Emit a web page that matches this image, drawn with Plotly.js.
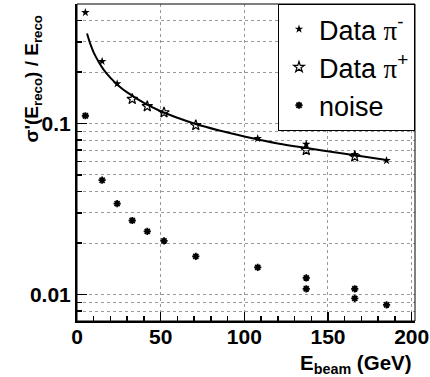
<!DOCTYPE html>
<html>
<head>
<meta charset="utf-8">
<script src="https://cdn.plot.ly/plotly-3.0.1.min.js"></script>
<style>html,body{margin:0;padding:0;background:#fff;} #chart{width:430px;height:377px;}</style>
</head>
<body>
<div id="chart"></div>
<script>
// Data
const energiesMinus = [5, 15, 24, 108, 137, 166, 185];
const resMinus      = [0.446, 0.231, 0.171, 0.0817, 0.0757, 0.066, 0.0608];
const energiesPlus  = [33, 42, 52, 71, 137, 166];
const resPlus       = [0.139, 0.126, 0.116, 0.0977, 0.0698, 0.064];
const noiseE        = [5, 15, 24, 33, 42, 52, 71, 108, 137, 137, 166, 166, 185];
const noiseVal      = [0.111, 0.0466, 0.034, 0.0271, 0.0234, 0.0206, 0.0167, 0.0144, 0.0125, 0.0108, 0.0108, 0.0095, 0.0087];
const fitE          = [6, 8, 10, 13, 16, 20, 25, 30, 40, 50, 60, 70, 85, 100, 120, 140, 160, 185];
const fitVal        = [0.336, 0.291, 0.260, 0.229, 0.206, 0.185, 0.166, 0.152, 0.132, 0.118, 0.108, 0.100, 0.091, 0.084, 0.0765, 0.0712, 0.0665, 0.0612];
const xTickVals     = [0, 50, 100, 150, 200];
const xTickText     = ['0', '50', '100', '150', '200'];
const yTickVals     = [0.01, 0.1];
const yTickText     = ['0.01', '0.1'];
const yMinorVals    = [0.008, 0.009, 0.02, 0.03, 0.04, 0.05, 0.06, 0.07, 0.08, 0.09, 0.2, 0.3, 0.4];

const FONT = 'Liberation Sans, Arial, Helvetica, sans-serif';
const GRID = '#9a9a9a';
const bold = a => a.map(s => '<b>' + s + '</b>');
const PI = '<span style="font-family:\'Liberation Serif\',\'Times New Roman\',serif">π</span>';

const traces = [
  {x: fitE, y: fitVal, mode: 'lines', line: {color: '#000', width: 2, shape: 'spline'},
   showlegend: false, hoverinfo: 'skip'},
  {x: energiesMinus, y: resMinus, mode: 'markers', name: 'Data ' + PI + '<sup>-</sup>',
   legendgroup: 'a', marker: {symbol: 'star', size: 6.5, color: '#000', line: {width: 0}}},
  {x: energiesPlus, y: resPlus, mode: 'markers', name: 'Data ' + PI + '<sup>+</sup>',
   legendgroup: 'b', marker: {symbol: 'star-open', size: 8, color: '#000', line: {width: 1.2, color: '#000'}}},
  {x: noiseE, y: noiseVal, mode: 'markers', name: 'noise',
   legendgroup: 'c', marker: {symbol: 'asterisk-open', size: 6, color: '#000', line: {width: 1.8, color: '#000'}}}
];

const layout = {
  width: 430, height: 377,
  margin: {l: 77, r: 15, t: 4, b: 56},
  paper_bgcolor: '#fff', plot_bgcolor: '#fff',
  font: {family: FONT, color: '#000'},
  showlegend: true,
  legend: {
    x: 1, y: 1, xanchor: 'right', yanchor: 'top',
    bgcolor: '#fff', bordercolor: '#000', borderwidth: 1,
    font: {family: FONT, size: 27, color: '#000'},
    traceorder: 'grouped', tracegroupgap: 0,
    itemsizing: 'trace', itemwidth: 30
  },
  xaxis: {
    range: [0, 202], type: 'linear',
    tickmode: 'array', tickvals: xTickVals, ticktext: bold(xTickText),
    ticks: 'inside', ticklen: 9, tickwidth: 1.5, tickcolor: '#000',
    tickfont: {family: FONT, size: 21, weight: 'bold', color: '#000'},
    ticklabelstandoff: -4,
    showline: true, linewidth: 2, linecolor: '#000',
    showgrid: true, gridcolor: GRID, griddash: 'dot', gridwidth: 1,
    zeroline: false,
    minor: {dtick: 10, tick0: 0, ticks: 'inside', ticklen: 5, tickwidth: 1.5, tickcolor: '#000', showgrid: false}
  },
  yaxis: {
    type: 'log', range: [Math.log10(0.007), Math.log10(0.5)],
    tickmode: 'array', tickvals: yTickVals, ticktext: bold(yTickText),
    ticks: 'inside', ticklen: 10, tickwidth: 1.5, tickcolor: '#000',
    tickfont: {family: FONT, size: 21, weight: 'bold', color: '#000'},
    showline: true, linewidth: 2, linecolor: '#000',
    showgrid: true, gridcolor: GRID, griddash: 'dot', gridwidth: 1,
    zeroline: false,
    minor: {tickmode: 'array', tickvals: yMinorVals, ticks: 'inside', ticklen: 5, tickwidth: 1.5, tickcolor: '#000',
            showgrid: true, gridcolor: GRID, griddash: 'dot', gridwidth: 1}
  },
  shapes: [
    {type: 'rect', xref: 'paper', yref: 'paper', x0: 0, x1: 1, y0: 0, y1: 1,
     line: {color: '#000', width: 1}, layer: 'above'}
  ],
  annotations: [
    {text: "<b>σ'(E<sub>reco</sub>) / E<sub>reco</sub></b>", textangle: -90,
     xref: 'paper', yref: 'paper', x: -0.13, y: 0.765, xanchor: 'center', yanchor: 'middle',
     showarrow: false, font: {family: FONT, size: 19, color: '#000'}},
    {text: '<b>E<sub>beam</sub> (GeV)</b>',
     xref: 'paper', yref: 'paper', x: 0.996, y: -0.136, xanchor: 'right', yanchor: 'middle',
     showarrow: false, font: {family: FONT, size: 20.5, color: '#000'}}
  ]
};

Plotly.newPlot('chart', traces, layout, {staticPlot: true, displayModeBar: false});
</script>
</body>
</html>
